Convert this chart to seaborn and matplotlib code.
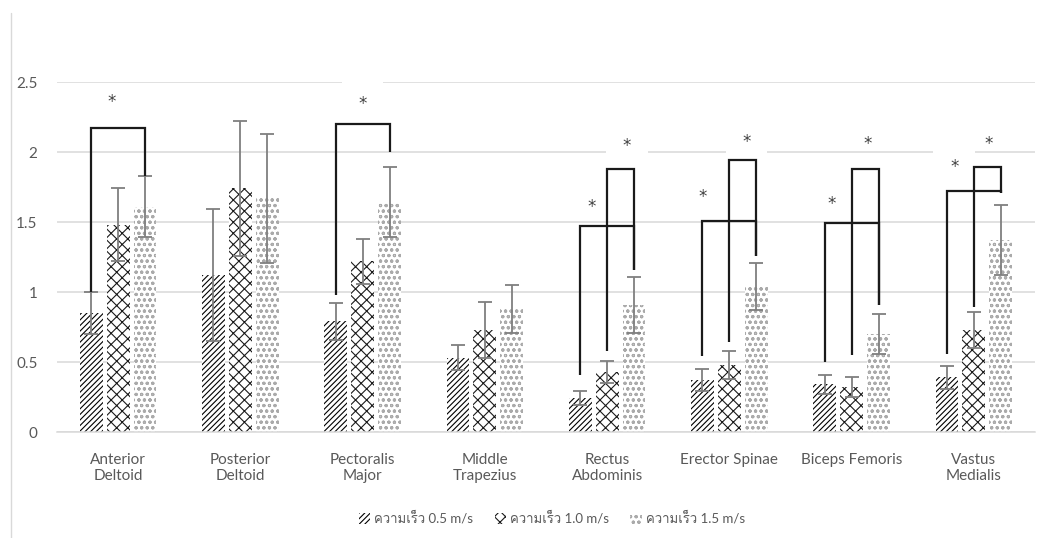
import numpy as np
import pandas as pd
import matplotlib
matplotlib.use("Agg")
import matplotlib.pyplot as plt
import seaborn as sns
from matplotlib import font_manager, ft2font
from matplotlib.patches import Patch
from matplotlib.lines import Line2D

# ---- data -------------------------------------------------------------
muscles = ["Anterior\nDeltoid", "Posterior\nDeltoid", "Pectoralis\nMajor",
           "Middle\nTrapezius", "Rectus\nAbdominis", "Erector Spinae",
           "Biceps Femoris", "Vastus\nMedialis"]
speeds = ["ความเร็ว 0.5 m/s", "ความเร็ว 1.0 m/s", "ความเร็ว 1.5 m/s"]

mean_05 = [0.85, 1.12, 0.79, 0.53, 0.24, 0.37, 0.34, 0.39]
mean_10 = [1.48, 1.74, 1.22, 0.73, 0.43, 0.48, 0.32, 0.73]
mean_15 = [1.61, 1.67, 1.64, 0.88, 0.91, 1.04, 0.70, 1.37]
sd_05 = [0.15, 0.47, 0.13, 0.09, 0.05, 0.08, 0.07, 0.08]
sd_10 = [0.26, 0.48, 0.16, 0.20, 0.08, 0.10, 0.07, 0.13]
sd_15 = [0.22, 0.46, 0.25, 0.17, 0.20, 0.17, 0.14, 0.25]

# significance brackets: muscle index, bar (speed) indices, leg heights, top
br_group = [0, 2, 4, 4, 5, 5, 6, 6, 7, 7]
br_from = [0, 0, 0, 1, 0, 1, 0, 1, 0, 1]
br_to = [2, 2, 2, 2, 2, 2, 2, 2, 2, 2]
br_from_y = [1.00, 0.98, 0.41, 0.58, 0.54, 0.64, 0.50, 0.55, 0.56, 0.89]
br_top = [2.17, 2.20, 1.47, 1.88, 1.51, 1.94, 1.49, 1.88, 1.72, 1.89]
br_to_y = [1.83, 2.00, 1.16, 1.16, 1.26, 1.26, 0.91, 0.91, 1.71, 1.71]

# asterisks marking significant differences
star_x = [-0.05, 2.00, 3.87, 4.16, 4.78, 5.14, 5.84, 6.13, 6.84, 7.12]
star_y = [2.36, 2.34, 1.61, 2.04, 1.68, 2.07, 1.63, 2.06, 1.89, 2.06]
star_boxed = [False, True, False, True, False, True, False, False, True, False]

yticks = [0, 0.5, 1, 1.5, 2, 2.5]
ytick_labels = ["0", "0.5", "1", "1.5", "2", "2.5"]


# ---- fonts ------------------------------------------------------------
def find_thai_family():
    for f in font_manager.fontManager.ttflist:
        try:
            cmap = ft2font.FT2Font(f.fname).get_charmap()
        except Exception:
            continue
        if 0x0E04 in cmap and 0x0E27 in cmap:
            return f.name
    return None


sns.set_style("white")
families = ["Lato"]
thai = find_thai_family()
if thai:
    families.append(thai)
families.append("DejaVu Sans")
plt.rcParams["font.family"] = families
plt.rcParams["hatch.linewidth"] = 0.8

TEXT = "#595959"
GRID = "#d9d9d9"

# ---- frame ------------------------------------------------------------
df = pd.DataFrame({
    "muscle": muscles * 3,
    "speed": np.repeat(speeds, len(muscles)),
    "value": mean_05 + mean_10 + mean_15,
})

fig = plt.figure(figsize=(10.54, 5.38), dpi=100)
ax = fig.add_axes([57 / 1054, 106 / 538, 978 / 1054, 350 / 538])

sns.barplot(data=df, x="muscle", y="value", hue="speed", order=muscles,
            hue_order=speeds, width=0.66, gap=0.15, errorbar=None,
            legend=False, palette=["white"] * 3, ax=ax)

hatches = ["//////", "xxx", "ooo"]
hatch_colors = ["#000000", "#1a1a1a", "#aaaaaa"]
for cont, h, c in zip(ax.containers, hatches, hatch_colors):
    for p in cont:
        p.set_facecolor("white")
        p.set_edgecolor(c)
        p.set_linewidth(0)
        p.set_hatch(h)

# error bars (mean +/- SD)
centers = []
for cont, means, sds in zip(ax.containers, [mean_05, mean_10, mean_15],
                            [sd_05, sd_10, sd_15]):
    xs = [p.get_x() + p.get_width() / 2 for p in cont]
    centers.append(xs)
    ax.errorbar(xs, means, yerr=sds, fmt="none", ecolor="#7f7f7f",
                elinewidth=1.3, capsize=5, capthick=1.3, zorder=3)

# significance brackets
for g, a, b, ya, top, yb in zip(br_group, br_from, br_to, br_from_y,
                                br_top, br_to_y):
    xa, xb = centers[a][g], centers[b][g]
    ax.plot([xa, xa, xb, xb], [ya, top, top, yb], color="#1a1a1a", lw=1.6,
            zorder=5, solid_joinstyle="miter", solid_capstyle="butt")

for x, y, boxed in zip(star_x, star_y, star_boxed):
    kw = {}
    if boxed:
        kw["bbox"] = dict(boxstyle="square,pad=1.0", fc="white", ec="none")
    ax.text(x, y, "*", ha="center", va="center", fontsize=12,
            color="#404040", zorder=1.5, family="DejaVu Sans", **kw)

# ---- axes styling -----------------------------------------------------
ax.set_xlim(-0.5, 7.5)
ax.set_ylim(0, 2.5)
ax.set_yticks(yticks)
ax.set_yticklabels(ytick_labels)
ax.set_xlabel("")
ax.set_ylabel("")
ax.yaxis.grid(True, color=GRID, lw=1.1)
ax.set_axisbelow(True)
for side in ["top", "right", "left"]:
    ax.spines[side].set_visible(False)
ax.spines["bottom"].set_color(GRID)
ax.spines["bottom"].set_linewidth(1.1)
ax.tick_params(axis="both", length=0, colors=TEXT, labelsize=11)
ax.tick_params(axis="y", pad=14)
ax.tick_params(axis="x", pad=15)

handles = [Patch(facecolor="white", edgecolor=c, hatch=h, linewidth=0,
                 label=s) for s, h, c in zip(speeds, hatches, hatch_colors)]
leg = fig.legend(handles=handles, loc="center", ncol=3,
                 bbox_to_anchor=(552 / 1054, 20 / 538), frameon=False,
                 fontsize=9.5, handlelength=0.9, handleheight=0.9,
                 handletextpad=0.3, columnspacing=1.6)
for t in leg.get_texts():
    t.set_color(TEXT)

fig.add_artist(Line2D([11 / 1054, 11 / 1054], [0, 1 - 13 / 538],
                      transform=fig.transFigure, color=GRID, lw=1))

fig.savefig("out.png", dpi=100, facecolor="white")
